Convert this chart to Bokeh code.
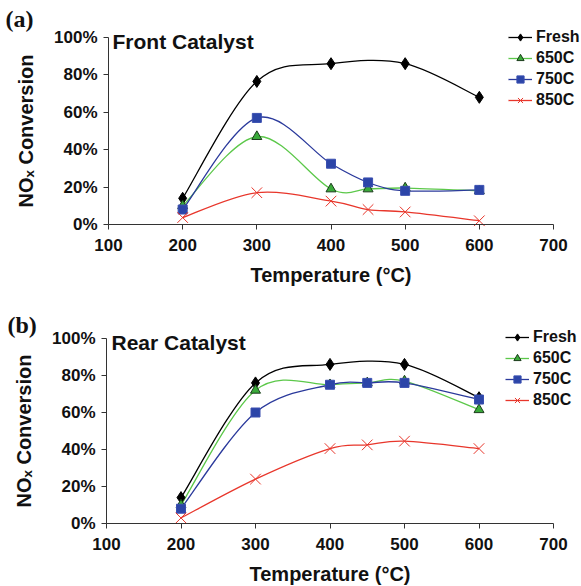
from bokeh.plotting import figure
from bokeh.models import (Range1d, Legend, LegendItem, Label, FixedTicker,
                          CustomJSTickFormatter)
from bokeh.layouts import column
from bokeh.embed import file_html
from bokeh.resources import INLINE

# ---------------- data ----------------
temps = [200, 300, 400, 450, 500, 600]
temps_fresh = [200, 300, 400, 500, 600]

front_fresh = [14, 76.5, 86, 86, 68]
front_650 = [10, 47, 19, 19, 19.5, 18]
front_750 = [8, 57, 32.5, 22.5, 18, 18.5]
front_850 = [3.7, 17, 12.5, 8, 6.7, 2]

rear_fresh = [14, 76, 86, 86, 68]
rear_650 = [10, 72, 75, 76, 77, 61.5]
rear_750 = [8, 60, 75, 76, 76, 67]
rear_850 = [3, 24, 40.5, 42.5, 44.5, 40.5]

series_names = ["Fresh", "650C", "750C", "850C"]
x_ticks = [100, 200, 300, 400, 500, 600, 700]
y_ticks = [0, 20, 40, 60, 80, 100]

FONT = "Liberation Sans"
W, H = 581, 293
STYLE = {
    "Fresh": dict(line="#000000", marker="diamond", fill="#000000",
                  lcol="#000000", size=12),
    "650C": dict(line="#5cc84a", marker="triangle", fill="#3aaa3a",
                 lcol="#1b3b1b", size=10),
    "750C": dict(line="#2b3a9c", marker="square", fill="#2c45a8",
                 lcol="#3a4fb0", size=9),
    "850C": dict(line="#e8362b", marker="x", fill="#e8362b",
                 lcol="#e8362b", size=15),
}


def bezier_segments(xs, ys):
    n = len(xs)
    seg = dict(x0=[], y0=[], x1=[], y1=[], cx0=[], cy0=[], cx1=[], cy1=[])
    for i in range(n - 1):
        i0 = max(i - 1, 0)
        i3 = min(i + 2, n - 1)
        seg["x0"].append(xs[i]); seg["y0"].append(ys[i])
        seg["x1"].append(xs[i + 1]); seg["y1"].append(ys[i + 1])
        seg["cx0"].append(xs[i] + (xs[i + 1] - xs[i0]) / 6.0)
        seg["cy0"].append(ys[i] + (ys[i + 1] - ys[i0]) / 6.0)
        seg["cx1"].append(xs[i + 1] - (xs[i3] - xs[i]) / 6.0)
        seg["cy1"].append(ys[i + 1] - (ys[i3] - ys[i]) / 6.0)
    return seg


def make_panel(tag, title, data, px_x100, px_x700, px_y0, px_y100,
               legend_xy, tag_xy, title_xy):
    # the frame covers the whole canvas; axes are drawn at fixed locations
    kx = (px_x700 - px_x100) / 600.0
    ky = (px_y0 - px_y100) / 100.0
    xr = Range1d(100 - px_x100 / kx, 100 + (W - px_x100) / kx)
    yr = Range1d(-(H - px_y0) / ky, 100 + px_y100 / ky)
    p = figure(width=W, height=H, output_backend="svg", toolbar_location=None,
               x_range=xr, y_range=yr, min_border=0,
               min_border_left=0, min_border_right=0,
               min_border_top=0, min_border_bottom=0)
    p.outline_line_color = None
    p.xgrid.visible = False
    p.ygrid.visible = False
    p.background_fill_color = "white"

    for ax in (p.xaxis[0], p.yaxis[0]):
        ax.axis_line_color = "#333333"
        ax.major_tick_line_color = "#333333"
        ax.major_tick_out = 5
        ax.major_tick_in = 0
        ax.minor_tick_line_color = None
        ax.major_label_text_font = FONT
        ax.major_label_text_font_style = "bold"
        ax.major_label_text_font_size = "17px"
        ax.major_label_text_color = "#111111"
        ax.axis_label_text_font = FONT
        ax.axis_label_text_font_style = "bold"
        ax.axis_label_text_font_size = "20px"
        ax.axis_label_text_color = "#111111"
    p.xaxis[0].ticker = FixedTicker(ticks=x_ticks)
    p.yaxis[0].ticker = FixedTicker(ticks=y_ticks)
    p.xaxis[0].bounds = (100, 700)
    p.yaxis[0].bounds = (0, 100)
    p.xaxis[0].fixed_location = 0
    p.yaxis[0].fixed_location = 100
    p.yaxis[0].formatter = CustomJSTickFormatter(code="return tick.toFixed(0) + '%';")
    p.xaxis[0].axis_label = "Temperature (\u00b0C)"
    p.yaxis[0].axis_label = "NO\u2093 Conversion"
    p.xaxis[0].major_label_standoff = 9
    p.yaxis[0].major_label_standoff = 6
    p.xaxis[0].axis_label_standoff = 10
    p.yaxis[0].axis_label_standoff = 14

    items = []
    for name, (xs, ys) in zip(series_names, data):
        st = STYLE[name]
        seg = bezier_segments(xs, ys)
        br = p.bezier(source=seg, x0="x0", y0="y0", x1="x1", y1="y1",
                      cx0="cx0", cy0="cy0", cx1="cx1", cy1="cy1",
                      line_color=st["line"], line_width=1.3)
        st["bez"] = br
    for name, (xs, ys) in zip(series_names, data):
        st = STYLE[name]
        r = p.scatter(xs, ys, marker=st["marker"], size=st["size"],
                      fill_color=st["fill"], line_color=st["lcol"], line_width=1)
        items.append(LegendItem(label=name, renderers=[st["bez"], r]))

    leg = Legend(items=items, location=legend_xy, padding=0, margin=0,
                 spacing=3, glyph_height=18, glyph_width=24, label_height=18,
                 label_standoff=4, border_line_alpha=0, background_fill_alpha=0,
                 label_text_font=FONT, label_text_font_style="bold",
                 label_text_font_size="16px", label_text_color="#111111")
    p.add_layout(leg, "center")

    p.add_layout(Label(x=tag_xy[0], y=tag_xy[1], x_units="screen", y_units="screen",
                       text=tag, text_font="Liberation Serif", text_font_style="bold",
                       text_font_size="24px", text_color="#111111"))
    p.add_layout(Label(x=title_xy[0], y=title_xy[1], x_units="screen", y_units="screen",
                       text=title, text_font=FONT, text_font_style="bold",
                       text_font_size="21px", text_color="#111111"))
    return p


pa = make_panel("(a)", "Front Catalyst",
                [(temps_fresh, front_fresh), (temps, front_650), (temps, front_750), (temps, front_850)],
                px_x100=108, px_x700=553, px_y0=224, px_y100=37,
                legend_xy=(508, 184), tag_xy=(5, 262), title_xy=(112, 241))
pb = make_panel("(b)", "Rear Catalyst",
                [(temps_fresh, rear_fresh), (temps, rear_650), (temps, rear_750), (temps, rear_850)],
                px_x100=106, px_x700=553, px_y0=230, px_y100=45,
                legend_xy=(505, 177), tag_xy=(7, 249), title_xy=(111, 233))

layout = column(pa, pb, spacing=0)
open("out.html", "w").write(file_html(layout, INLINE))
